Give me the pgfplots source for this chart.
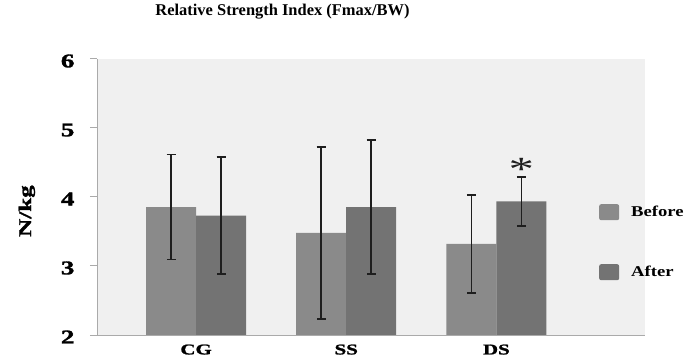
\documentclass[border=0pt]{standalone}
\usepackage{pgfplots}
\pgfplotsset{compat=1.18}
\usepackage{pgfplotstable}
\usepackage{fontspec}
\setmainfont{Liberation Serif}
\newfontfamily\axisfont[FakeStretch=1.4, FakeBold=1.5]{Liberation Serif}
\newfontfamily\legfont[FakeStretch=1.25]{Liberation Serif}
\newfontfamily\starfont[FakeStretch=1.5]{Liberation Serif}
\definecolor{bgc}{RGB}{240,240,240}
\definecolor{beforec}{RGB}{138,138,138}
\definecolor{afterc}{RGB}{115,115,115}
\definecolor{axc}{RGB}{170,170,170}
\definecolor{errc}{RGB}{30,30,30}

\pgfplotstableread{
x y e
0 3.855 0.76
1 3.48 1.245
2 3.32 0.71
}\beforetab
\pgfplotstableread{
x y e
0 3.73 0.85
1 3.855 0.975
2 3.935 0.355
}\aftertab

\begin{document}
\begin{tikzpicture}
\useasboundingbox (0,0) rectangle (686bp,358bp);
\begin{axis}[
  at={(97bp,23bp)}, anchor=south west,
  scale only axis, width=548bp, height=276bp,
  xmin=-0.66, xmax=2.99, ymin=2, ymax=6,
  ybar=0pt, bar width=0.333,
  axis background/.style={fill=bgc},
  axis x line=bottom, axis y line=left,
  axis line style={-, draw=axc, line width=1bp},
  xtick={0,1,2}, xticklabels={CG,SS,DS},
  xtick style={draw=none},
  ytick={2,3,4,5,6},
  ytick style={draw=axc, line width=1bp},
  major tick length=7bp,
  tick align=outside,
  /pgf/number format/assume math mode=true,
  yticklabel style={font=\axisfont\bfseries\fontsize{19.5}{20}\selectfont, xshift=-12bp, yshift=-2bp},
  xticklabel style={font=\axisfont\bfseries\fontsize{15}{16}\selectfont, yshift=1bp},
  ylabel={N/kg},
  ylabel style={at={(axis description cs:-0.128,0.449)}, anchor=center, font=\axisfont\bfseries\fontsize{18}{19}\selectfont},
  title={Relative Strength Index (Fmax/BW)},
  title style={at={(axis description cs:0.3385,1.1486)}, anchor=center, font=\bfseries\fontsize{16.5}{17}\selectfont},
  error bars/error bar style={draw=errc, line width=1.6bp},
  error bars/error mark options={mark size=4.5bp, line width=1.6bp, draw=errc, rotate=90},
  legend style={at={(axis description cs:0.916,0.4746)}, anchor=north west, draw=none, fill=none,
    inner sep=0pt, row sep=44bp, column sep=12bp,
    font=\legfont\bfseries\fontsize{15}{16}\selectfont,
    nodes={inner sep=0pt}},
  legend cell align=left,
  legend image code/.code={\draw[#1, draw=none, rounded corners=2bp] (0bp,-8bp) rectangle (20bp,8bp);},
]
\addplot[fill=beforec, draw=none,
  error bars/.cd, y dir=both, y explicit]
  table[x=x, y=y, y error=e]{\beforetab};
\addlegendentry{Before}
\addplot[fill=afterc, draw=none,
  error bars/.cd, y dir=both, y explicit]
  table[x=x, y=y, y error=e]{\aftertab};
\addlegendentry{After}
\node[font=\starfont\fontsize{34}{34}\selectfont, text=errc] at (axis cs:2.1665,4.40) {*};
\end{axis}
\end{tikzpicture}
\end{document}
